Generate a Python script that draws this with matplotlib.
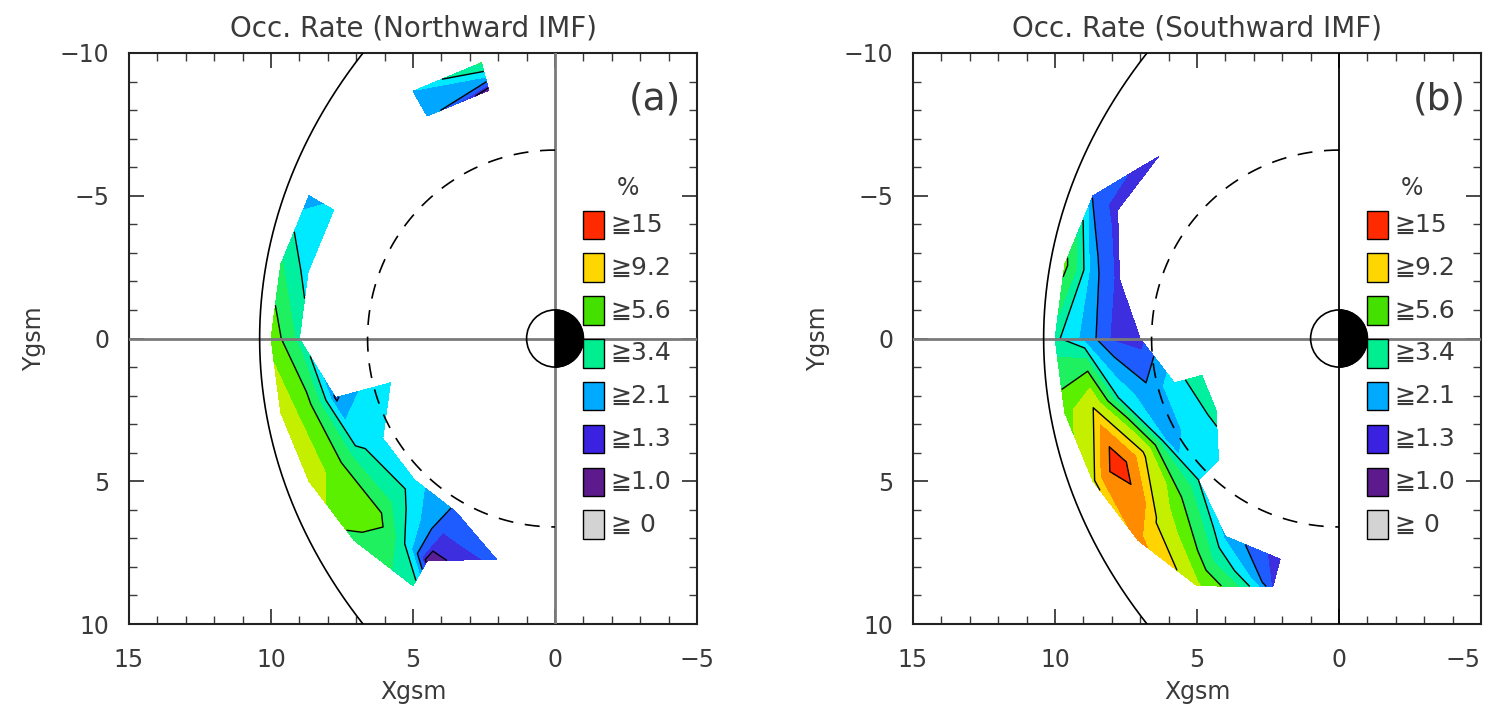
import numpy as np
import matplotlib.pyplot as plt
from matplotlib.patches import Wedge, Circle, Rectangle

nan = np.nan

# polar grid of the occurrence-rate bins (angle from +X toward +Y, radius in Re)
phi_deg = [-75, -60, -45, -30, -15, 0, 15, 30, 45, 60, 75]
r_nodes = [5, 6, 7, 8, 9, 10]

# occurrence rate (%) at each grid node, rows = phi, columns = r
rate_north = [
    [nan, nan, nan, nan, 1.0, 4.5],
    [nan, nan, nan, nan, 2.4, 2.6],
    [nan, nan, nan, nan, nan, nan],
    [nan, nan, nan, nan, 3.0, 2.2],
    [nan, nan, nan, nan, 3.0, 4.5],
    [nan, nan, nan, nan, 4.0, 6.5],
    [nan, 2.9, 2.8, 2.0, 6.0, 8.5],
    [nan, nan, 2.9, 3.6, 6.5, 8.5],
    [nan, nan, 2.9, 4.0, 6.5, 5.0],
    [nan, nan, 2.0, 1.6, 1.1, 4.0],
    [nan, nan, nan, 1.8, nan, nan],
]

rate_south = [
    [nan, nan, nan, nan, nan, nan],
    [nan, nan, nan, nan, nan, nan],
    [nan, nan, nan, nan, 1.35, nan],
    [nan, nan, nan, nan, 1.45, 2.0],
    [nan, nan, nan, 1.5, 2.3, 6.0],
    [nan, nan, 1.5, 1.6, 2.5, 3.6],
    [4.0, 3.0, 2.2, 3.2, 8.8, 6.5],
    [3.6, 3.0, 2.2, 9.5, 18.0, 8.6],
    [nan, 3.0, 3.4, 6.0, 8.8, 12.5],
    [nan, nan, nan, 2.5, 4.5, 7.5],
    [nan, nan, nan, 1.4, 1.6, nan],
]

fill_levels = [0, 1.0, 1.3, 1.66, 2.1, 2.68, 3.4, 4.36, 5.6, 7.2, 9.2, 11.7, 15, 100]
fill_colors = ['#d3d3d3', '#5b1e96', '#3d2ee0', '#1f5cff', '#00a6ff', '#00eaff',
               '#00f0a0', '#1ef060', '#5af000', '#c4f000', '#ffd400', '#ff8c00', '#ff2a00']
line_levels = [1.3, 2.1, 3.4, 5.6, 9.2, 15]

legend_labels = ['≧15', '≧9.2', '≧5.6', '≧3.4', '≧2.1', '≧1.3', '≧1.0', '≧ 0']
legend_colors = ['#ff2a00', '#ffd700', '#44e000', '#00ee90', '#00aaff', '#3a22e0', '#5c1a8c', '#d3d3d3']

titles = ['Occ. Rate (Northward IMF)', 'Occ. Rate (Southward IMF)']
panel_tags = ['(a)', '(b)']

# reference curves
mp_r0, mp_alpha = 10.4, 0.6   # magnetopause (Shue-type shape)
geo_r = 6.6                    # geosynchronous orbit

tc = '#3a3a3a'
plt.rcParams['font.family'] = ['DejaVu Sans']

fig = plt.figure(figsize=(14.88, 7.08), dpi=100)
lefts = [129 / 1488, 913 / 1488]

phi = np.radians(np.array(phi_deg))
R, P = np.meshgrid(np.array(r_nodes, dtype=float), phi)
X = R * np.cos(P)
Y = R * np.sin(P)

for k, data in enumerate([rate_north, rate_south]):
    ax = fig.add_axes([lefts[k], 84 / 708, 568 / 1488, 571 / 708])
    Z = np.ma.masked_invalid(np.array(data))

    ax.contourf(X, Y, Z, levels=fill_levels, colors=fill_colors, zorder=1)
    ax.contour(X, Y, Z, levels=line_levels, colors='k', linewidths=1.0, zorder=2)

    # axes lines
    ax.axhline(0, color='#7a7a7a', lw=2.0, zorder=3)
    if k == 0:
        ax.axvline(0, color='#7a7a7a', lw=2.0, zorder=3)
    else:
        ax.axvline(0, color='k', lw=1.3, zorder=3)

    # magnetopause
    t = np.radians(np.linspace(-70, 70, 300))
    rmp = mp_r0 * (2 / (1 + np.cos(t))) ** mp_alpha
    ax.plot(rmp * np.cos(t), rmp * np.sin(t), color='k', lw=1.2, zorder=4)

    # geosynchronous orbit (dayside)
    a = np.radians(np.linspace(-90, 90, 200))
    ax.plot(geo_r * np.cos(a), geo_r * np.sin(a), color='k', lw=1.2,
            dashes=(9, 7), zorder=4)

    # Earth
    ax.add_patch(Wedge((0, 0), 1, 90, 270, facecolor='k', edgecolor='k', zorder=5))
    ax.add_patch(Circle((0, 0), 1, facecolor='none', edgecolor='k', lw=1.2, zorder=6))

    ax.set_xlim(15, -5)
    ax.set_ylim(10, -10)
    ax.set_xticks([15, 10, 5, 0, -5])
    ax.set_yticks([-10, -5, 0, 5, 10])
    ax.set_xticks(np.arange(-5, 16, 1), minor=True)
    ax.set_yticks(np.arange(-10, 11, 1), minor=True)
    ax.tick_params(which='both', direction='in', top=True, right=True,
                   colors=tc, labelsize=17)
    ax.tick_params(which='major', length=11, width=1.3, pad=14)
    ax.tick_params(axis='x', which='major', pad=17)
    ax.tick_params(which='minor', length=6, width=1.0)
    for s in ax.spines.values():
        s.set_linewidth(1.5)
        s.set_color('#222222')
    if k == 1:
        # keep the last x label inside the figure
        ax.get_xticklabels()[-1].set_horizontalalignment('right')

    ax.set_title(titles[k], fontsize=20, color=tc, pad=12)
    ax.set_xlabel('Xgsm', fontsize=17, color=tc, labelpad=6)
    ax.set_ylabel('Ygsm', fontsize=17, color=tc, labelpad=10)

    ax.text(0.926, 0.918, panel_tags[k], transform=ax.transAxes, fontsize=27,
            color=tc, ha='center', va='center')

    # legend
    ax.text(0.878, 0.764, '%', transform=ax.transAxes, fontsize=17,
            color=tc, ha='center', va='center')
    for i, (lab, col) in enumerate(zip(legend_labels, legend_colors)):
        yc = 0.699 - i * 0.075
        ax.add_patch(Rectangle((0.799, yc - 0.025), 0.037, 0.05, transform=ax.transAxes,
                               facecolor=col, edgecolor='k', lw=1.0, zorder=7))
        ax.text(0.848, yc, lab, transform=ax.transAxes, fontsize=18,
                color=tc, ha='left', va='center', zorder=7)

fig.savefig('out.png', dpi=100)
